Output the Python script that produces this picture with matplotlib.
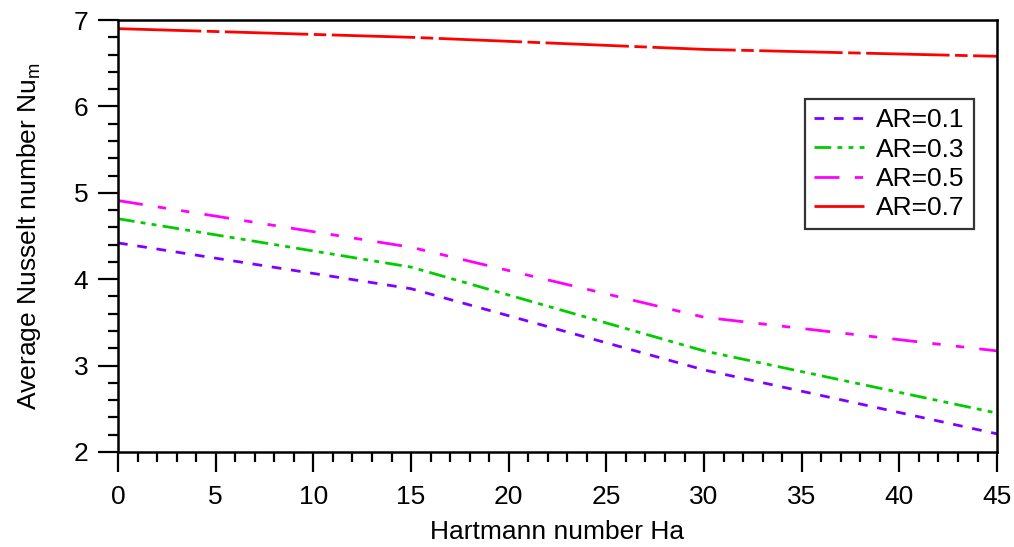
import numpy as np
import matplotlib
matplotlib.use("Agg")
import matplotlib.pyplot as plt
from matplotlib.ticker import MultipleLocator

plt.rcParams['font.family'] = ['Liberation Sans', 'DejaVu Sans']
plt.rcParams['lines.scale_dashes'] = False

# Data
ha = [0, 15, 30, 45]
nu_ar01 = [4.42, 3.89, 2.95, 2.21]
nu_ar03 = [4.70, 4.14, 3.17, 2.45]
nu_ar05 = [4.91, 4.37, 3.56, 3.17]
nu_ar07 = [6.90, 6.80, 6.66, 6.58]

labels = ["AR=0.1", "AR=0.3", "AR=0.5", "AR=0.7"]
colors = ["#7f00ff", "#00cc00", "#ff00ff", "#ff0000"]
dashes = [(7, 7), (12, 4.5, 3.5, 4.5, 3.5, 4.5), (18, 11, 6, 11, 6, 11), (60, 4, 9, 4)]

fig = plt.figure(figsize=(10.14, 5.47), dpi=100)
ax = fig.add_axes([0.1164, 0.1737, 0.8669, 0.7897])

for y, lab, c, d in zip([nu_ar01, nu_ar03, nu_ar05, nu_ar07], labels, colors, dashes):
    ax.plot(ha, y, color=c, lw=2.0, dashes=d, label=lab)

ax.set_xlim(0, 45)
ax.set_ylim(2, 7)
ax.xaxis.set_major_locator(MultipleLocator(5))
ax.xaxis.set_minor_locator(MultipleLocator(1))
ax.yaxis.set_major_locator(MultipleLocator(1))
ax.yaxis.set_minor_locator(MultipleLocator(0.2))

ax.tick_params(which='major', direction='out', length=14.5, width=1.6,
               labelsize=19, pad=9)
ax.tick_params(which='minor', direction='out', length=7.5, width=1.6)
ax.tick_params(axis='y', which='major', pad=7)
for s in ax.spines.values():
    s.set_linewidth(1.8)

ax.set_xlabel("Hartmann number Ha", fontsize=19, labelpad=8)
ax.set_ylabel("Average Nusselt number Nu$_\\mathregular{m}$", fontsize=19, labelpad=22)

leg = ax.legend(loc='upper right', bbox_to_anchor=(0.974, 0.817), fontsize=19,
                frameon=True, fancybox=False, edgecolor='black',
                handlelength=1.9, handletextpad=0.45, borderpad=0.35,
                labelspacing=0.2, borderaxespad=0)
leg.get_frame().set_linewidth(1.6)

fig.savefig("out.png", dpi=100)
